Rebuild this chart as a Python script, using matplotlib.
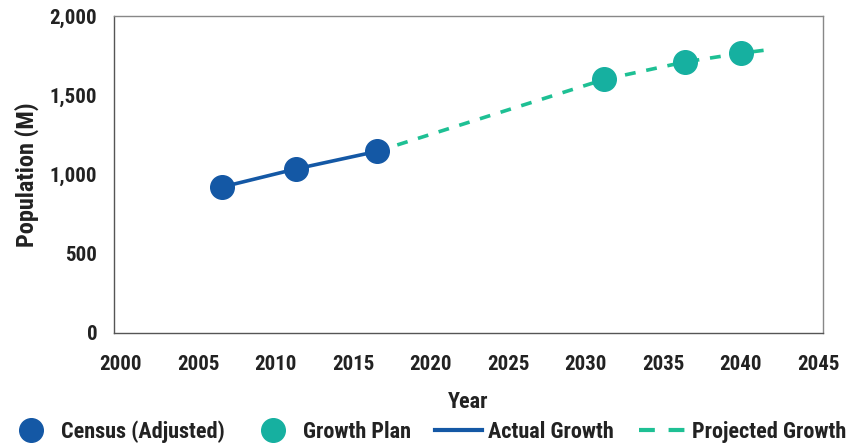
import matplotlib
matplotlib.use("Agg")
import matplotlib.pyplot as plt
from matplotlib.lines import Line2D

census_years = [2006.5, 2011.3, 2016.5]
census_values = [920, 1035, 1145]
plan_years = [2031.2, 2036.4, 2040.0]
plan_values = [1600, 1710, 1765]
proj_years = [2016.5, 2031.2, 2036.4, 2040.0, 2042.0]
proj_values = [1145, 1600, 1710, 1765, 1790]
xticks = [2000, 2005, 2010, 2015, 2020, 2025, 2030, 2035, 2040, 2045]
yticks = [0, 500, 1000, 1500, 2000]

FAM = ['DejaVu Sans Condensed', 'Liberation Sans Narrow', 'Roboto Condensed', 'DejaVu Sans']
plt.rcParams['font.family'] = FAM
plt.rcParams['font.weight'] = 'bold'
plt.rcParams['axes.labelweight'] = 'bold'
plt.rcParams['font.stretch'] = 'condensed'

c_census = '#1458a5'
c_plan = '#16b0a0'
c_proj = '#1ec094'
c_text = '#222222'

fig = plt.figure(figsize=(8.54, 4.45), dpi=100)
ax = fig.add_axes([0.1335, 0.252, 0.830, 0.712])

ax.plot(proj_years, proj_values, color=c_proj, lw=2.6, ls=(0, (3, 3)), zorder=2)
ax.plot(census_years, census_values, color=c_census, lw=2.6, zorder=3)
ax.plot(census_years, census_values, 'o', color=c_census, ms=17, zorder=4)
ax.plot(plan_years, plan_values, 'o', color=c_plan, ms=17, zorder=4)

ax.set_xlim(1999.55, 2045.3)
ax.set_ylim(0, 2000)
ax.set_xticks(xticks)
ax.set_yticks(yticks)
ax.set_yticklabels([f"{v:,}" for v in yticks])
ax.tick_params(length=0, labelsize=15, colors=c_text)
ax.tick_params(axis='x', pad=16)
ax.tick_params(axis='y', pad=12)
for s in ax.spines.values():
    s.set_color('#888888')
    s.set_linewidth(1.0)
ax.spines['left'].set_color('#555555')
ax.spines['bottom'].set_color('#555555')

ax.set_xlabel('Year', fontsize=16, color=c_text, labelpad=12)
ax.set_ylabel('Population (M)', fontsize=17.5, color=c_text, labelpad=8)

handles = [
    Line2D([], [], ls='none', marker='o', color=c_census, ms=17),
    Line2D([], [], ls='none', marker='o', color=c_plan, ms=17),
    Line2D([], [], color=c_census, lw=3),
    Line2D([], [], color=c_proj, lw=3, ls=(0, (3.8, 3.3))),
]
labels = ['Census (Adjusted)', 'Growth Plan', 'Actual Growth', 'Projected Growth']
fig.legend(handles, labels, loc='lower center', bbox_to_anchor=(0.5, -0.035), ncol=4,
           frameon=False, fontsize=16, handlelength=2.1, columnspacing=1.1,
           handletextpad=0.3, borderpad=0.3, labelcolor=c_text)

fig.savefig('out.png', dpi=100)
